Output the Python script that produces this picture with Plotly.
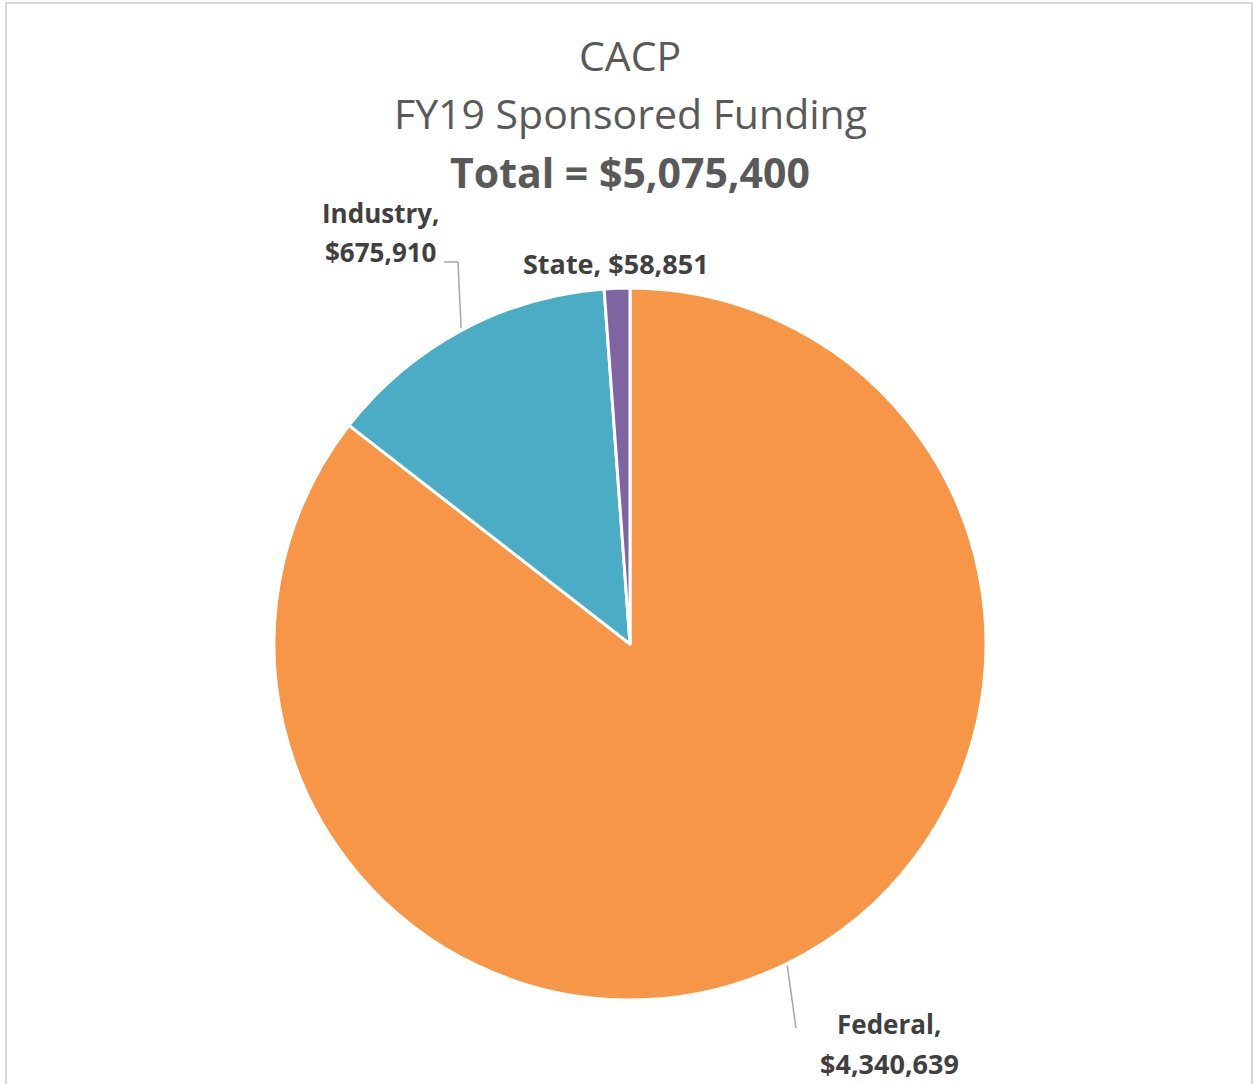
import math
import plotly.graph_objects as go

W, H = 1254, 1084
OFF = 0  # body margin removed by post_script below

labels = ["Federal", "Industry", "State"]
values = [4340639, 675910, 58851]
colors = ["#F79646", "#4BACC6", "#8064A2"]
title_lines = ["CACP", "FY19 Sponsored Funding", "Total = $5,075,400"]

# pie geometry (pixels in the screenshot)
cx, cy, r = 630, 644, 356


def px(x):
    return (x - OFF) / W


def py(y):
    return 1 - (y - OFF) / H


fig = go.Figure()
fig.add_trace(go.Pie(
    labels=labels,
    values=values,
    marker=dict(colors=colors, line=dict(color="white", width=3)),
    sort=False,
    direction="clockwise",
    rotation=0,
    textinfo="none",
    hoverinfo="label+value",
    showlegend=False,
    domain=dict(x=[px(cx - r), px(cx + r)], y=[py(cy + r), py(cy - r)]),
))

total = sum(values)
mids = []
acc = 0
for v in values:
    mids.append((acc + v / 2) / total * 360)
    acc += v


def edge(angle_deg, rad=r):
    a = math.radians(angle_deg)
    return cx + rad * math.sin(a), cy - rad * math.cos(a)


shapes = []
line_style = dict(color="#A6A6A6", width=1.5)

# Industry leader line
ex, ey = edge(mids[1], r + 2)
shapes.append(dict(type="path", xref="paper", yref="paper",
                   path=f"M {px(ex)},{py(ey)} L {px(458)},{py(262)} L {px(444)},{py(262)}",
                   line=line_style))
# Federal leader line
ex, ey = edge(mids[0], r + 2)
shapes.append(dict(type="line", xref="paper", yref="paper",
                   x0=px(ex), y0=py(ey), x1=px(796), y1=py(1028), line=line_style))

# chart border
shapes.append(dict(type="path", xref="paper", yref="paper",
                   path=f"M {px(6)},{py(1100)} L {px(6)},{py(3)} L {px(1252)},{py(3)} L {px(1252)},{py(1100)}",
                   line=dict(color="#D9D9D9", width=2)))

lab_font = dict(family="Open Sans", size=26, color="#404040")
label_lines = [
    (f"{labels[1]},", 380, 213, 26),
    (f"${values[1]:,}", 380, 252, 26),
    (f"{labels[2]}, ${values[2]:,}", 616, 263, 27),
    (f"{labels[0]},", 889, 1024, 26),
    (f"${values[0]:,}", 889, 1063, 27),
]
annotations = []
for t, xx, yy, fs in label_lines:
    annotations.append(dict(text=f"<b>{t}</b>", x=px(xx), y=py(yy),
                            xref="paper", yref="paper", showarrow=False,
                            font=dict(lab_font, size=fs),
                            xanchor="center", yanchor="middle"))

tfont = dict(family="Open Sans", size=41, color="#595959")
for i, (t, yy) in enumerate(zip(title_lines, [55, 113, 172])):
    annotations.append(dict(
        text=(f"<b>{t}</b>" if i == 2 else t), x=px(630), y=py(yy),
        xref="paper", yref="paper", showarrow=False, font=tfont,
        xanchor="center", yanchor="middle"))

fig.update_layout(
    width=W, height=H,
    margin=dict(l=0, r=0, t=0, b=0),
    paper_bgcolor="white",
    plot_bgcolor="white",
    shapes=shapes,
    annotations=annotations,
)

fig.write_html("out.html",
               config={"displayModeBar": False},
               post_script="document.body.style.margin='0';document.body.style.overflow='hidden';")
